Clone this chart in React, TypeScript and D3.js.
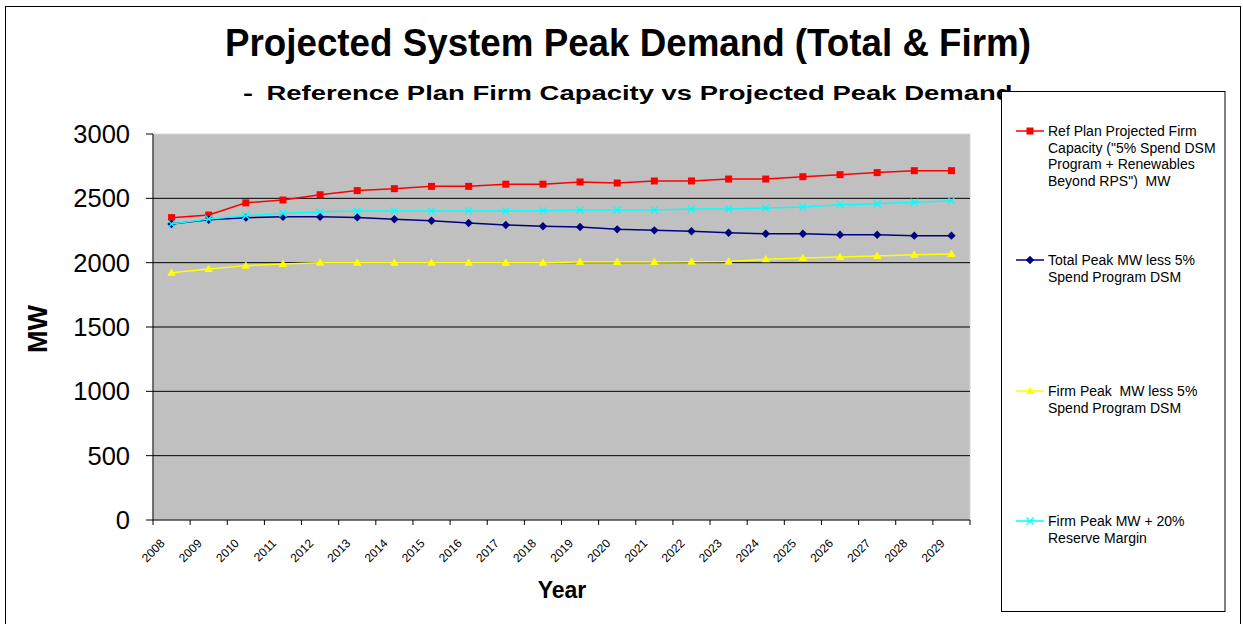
import React from "react";
import * as d3 from "d3";

const years = ["2008","2009","2010","2011","2012","2013","2014","2015","2016","2017","2018","2019","2020","2021","2022","2023","2024","2025","2026","2027","2028","2029"];
const refPlanCapacity = [2350,2370,2465,2487,2528,2560,2575,2593,2593,2610,2610,2627,2619,2635,2635,2650,2650,2668,2684,2700,2715,2715];
const totalPeakLessDSM = [2300,2334,2350,2357,2357,2352,2337,2326,2308,2293,2283,2277,2259,2251,2244,2233,2225,2225,2217,2217,2210,2210];
const firmPeakLessDSM = [1922,1950,1977,1990,2000,2000,2000,2000,2000,2000,2000,2005,2005,2005,2008,2010,2026,2036,2044,2052,2062,2067];
const firmPeakPlusReserve = [2300,2339,2365,2384,2394,2401,2401,2401,2401,2401,2404,2409,2409,2409,2417,2417,2425,2433,2451,2458,2469,2482];
const yTicks = [0,500,1000,1500,2000,2500,3000];

const legendLabels = [
  ["Ref Plan Projected Firm", "Capacity (\"5% Spend DSM", "Program + Renewables", "Beyond RPS\")\u00A0 MW"],
  ["Total Peak MW less 5%", "Spend Program DSM"],
  ["Firm Peak\u00A0 MW less 5%", "Spend Program DSM"],
  ["Firm Peak MW + 20%", "Reserve Margin"],
];

type Series = { values: number[]; color: string; marker: string; lineColor: string };
const series: Series[] = [
  { values: refPlanCapacity, color: "#FF0000", lineColor: "#FF0000", marker: "square" },
  { values: totalPeakLessDSM, color: "#000080", lineColor: "#000080", marker: "diamond" },
  { values: firmPeakLessDSM, color: "#FFFF00", lineColor: "#FFFF00", marker: "triangle" },
  { values: firmPeakPlusReserve, color: "#00FFFF", lineColor: "#00FFFF", marker: "x" },
];

const FONT = "'Liberation Sans', Arial, sans-serif";

function Marker({ type, x, y, color }: { type: string; x: number; y: number; color: string }) {
  if (type === "square") return <rect x={x - 3.5} y={y - 3.5} width={7} height={7} fill={color} />;
  if (type === "diamond") return <path d={`M${x},${y - 4.2}L${x + 4.2},${y}L${x},${y + 4.2}L${x - 4.2},${y}Z`} fill={color} />;
  if (type === "triangle") return <path d={`M${x},${y - 4.5}L${x + 4.3},${y + 3}L${x - 4.3},${y + 3}Z`} fill={color} />;
  return (
    <path d={`M${x - 3.5},${y - 3.5}L${x + 3.5},${y + 3.5}M${x + 3.5},${y - 3.5}L${x - 3.5},${y + 3.5}`} stroke={color} strokeWidth={1.3} fill="none" />
  );
}

export default function App() {
  const W = 1243, H = 624;
  const left = 153, right = 970, top = 134, bottom = 520;
  const x = d3.scaleBand().domain(years).range([left, right]).padding(0);
  const y = d3.scaleLinear().domain([0, 3000]).range([bottom, top]);
  const cx = (i: number) => (x(years[i]) as number) + x.bandwidth() / 2;
  const line = d3.line<number>().x((_, i) => cx(i)).y((v) => y(v));

  const tickXs = years.map((yr) => x(yr) as number).concat([right]);

  const legendItems = [
    { y: 131, s: series[0], lines: legendLabels[0] },
    { y: 260, s: series[1], lines: legendLabels[1] },
    { y: 391, s: series[2], lines: legendLabels[2] },
    { y: 521, s: series[3], lines: legendLabels[3] },
  ];

  return (
    <svg width={W} height={H} style={{ position: "absolute", left: 0, top: 0, background: "#fff" }} fontFamily={FONT}>
      <rect x={0} y={0} width={W} height={H} fill="#fff" />
      <rect x={5.5} y={6.5} width={1235} height={640} fill="none" stroke="#000" strokeWidth={1} />
      <text x={225} y={55.5} fontSize={38} fontWeight="bold" textLength={806} lengthAdjust="spacingAndGlyphs">Projected System Peak Demand (Total &amp; Firm)</text>
      <text x={243} y={99.5} fontSize={21} fontWeight="bold" textLength={10} lengthAdjust="spacingAndGlyphs">-</text>
      <text x={266.5} y={99.5} fontSize={21} fontWeight="bold" textLength={746} lengthAdjust="spacingAndGlyphs">Reference Plan Firm Capacity vs Projected Peak Demand</text>

      <rect x={left} y={top} width={right - left} height={bottom - top} fill="#C0C0C0" stroke="#D8D8D8" strokeWidth={1} />
      {yTicks.filter((t) => t > 0 && t < 3000).map((t) => (
        <line key={t} x1={left} x2={right} y1={y(t)} y2={y(t)} stroke="#000" strokeWidth={1} />
      ))}
      <line x1={left} x2={left} y1={top} y2={bottom} stroke="#000" strokeWidth={1} />
      <line x1={left} x2={right} y1={bottom} y2={bottom} stroke="#000" strokeWidth={1} />
      {yTicks.map((t) => (
        <g key={t}>
          <line x1={left - 7} x2={left} y1={y(t)} y2={y(t)} stroke="#000" />
          <text x={130} y={y(t) + 9} textAnchor="end" fontSize={25.5}>{t}</text>
        </g>
      ))}
      {tickXs.map((tx, i) => (
        <line key={i} x1={tx} x2={tx} y1={bottom} y2={bottom + 5} stroke="#000" />
      ))}
      {years.map((yr, i) => (
        <text key={yr} transform={`translate(${cx(i) - 6},${bottom + 24}) rotate(-45)`} textAnchor="end" fontSize={12}>{yr}</text>
      ))}
      <text x={562} y={598} textAnchor="middle" fontSize={23} fontWeight="bold">Year</text>
      <text transform={`translate(47,329) rotate(-90)`} textAnchor="middle" fontSize={27} fontWeight="bold">MW</text>

      {series.map((s, k) => (
        <g key={k}>
          <path d={line(s.values) || ""} fill="none" stroke={s.lineColor} strokeWidth={1.5} />
          {s.values.map((v, i) => (
            <Marker key={i} type={s.marker} x={cx(i)} y={y(v)} color={s.color} />
          ))}
        </g>
      ))}

      <rect x={1001.5} y={91.5} width={223.5} height={520} fill="#fff" stroke="#000" strokeWidth={1} />
      {legendItems.map((it, k) => (
        <g key={k}>
          <line x1={1016} x2={1044} y1={it.y} y2={it.y} stroke={it.s.lineColor} strokeWidth={1.5} />
          <Marker type={it.s.marker} x={1030} y={it.y} color={it.s.color} />
          {it.lines.map((ln, j) => (
            <text key={j} x={1048} y={it.y + 5 + j * 16.7} fontSize={14}>{ln}</text>
          ))}
        </g>
      ))}
    </svg>
  );
}
